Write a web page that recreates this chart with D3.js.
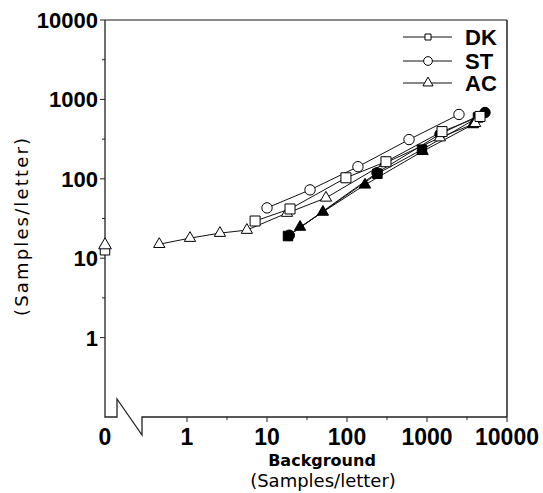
<!DOCTYPE html>
<html lang="en">
<head>
<meta charset="UTF-8">
<title>Samples/letter vs background</title>
<style>
    body { margin: 0; background: #fff; }
    .chart text { fill: #000; }
    .tick-label { font: bold 23px "Liberation Sans", Arial, sans-serif; }
    .legend text { font: bold 22px "Liberation Sans", Arial, sans-serif; }
    .axis-title { font-family: "DejaVu Sans", Verdana, sans-serif; }
</style>
</head>
<body>
<svg class="chart"></svg>
<script src="https://d3js.org/d3.v7.min.js"></script>
<script>

// open series (in the legend)
var dkX = [7.1, 19.4, 97, 307, 1540, 4600],
    dkY = [29.4, 41.7, 103, 164, 393, 610];
var stX = [10, 34.5, 137, 596, 2510],
    stY = [43, 72.5, 142, 312, 646];
var acX = [0.45, 1.09, 2.58, 5.6, 17.8, 54.6, 300, 1450, 4000],
    acY = [15, 17.9, 20.7, 22.6, 37, 57.5, 158, 330, 500];

// values plotted at the "0" background position
var zeroDK = 12.6,
    zeroAC = 14.6;

// filled series (not in the legend)
var fCircX = [19, 237, 1454, 5309],
    fCircY = [19.5, 119, 365, 684];
var fSqX = [18.3, 240, 866, 4340],
    fSqY = [19, 116, 233, 592];
var fTriX = [25.9, 50, 168, 880, 3758],
    fTriY = [24.7, 38.2, 84, 222, 483];

var xTicks = [1, 10, 100, 1000, 10000],
    yTicks = [1, 10, 100, 1000, 10000];
var legendNames = ["DK", "ST", "AC"];

var width = 543, height = 493;
var m = { left: 105, top: 20, right: 507, bottom: 417 };

var svg = d3.select(".chart")
    .attr("width", width)
    .attr("height", height);

var x = d3.scaleLog().domain([1, 10000]).range([187, m.right]);
var y = d3.scaleLog().domain([0.1, 10000]).range([m.bottom, m.top]);
// the "0" column left of the axis break
var xZero = d3.scalePoint().domain(["0"]).range([m.left, m.left]);

var axisStart = x(Math.pow(10, -0.5625));

// frame: top line and right side
svg.append("line")
    .attr("x1", m.left).attr("x2", m.right)
    .attr("y1", m.top).attr("y2", m.top)
    .attr("stroke", "#666").attr("stroke-width", 1.5);
svg.append("line")
    .attr("x1", m.right).attr("x2", m.right)
    .attr("y1", m.top).attr("y2", m.bottom)
    .attr("stroke", "#222").attr("stroke-width", 1.5);

// y axis line and the break on the x axis
svg.append("path")
    .attr("d", "M" + m.left + "," + m.top + "V" + m.bottom + "H" + (m.left + 12) +
        "V" + (m.bottom - 18) + "L" + axisStart + "," + (m.bottom + 18) +
        "V" + m.bottom + "H" + m.right)
    .attr("fill", "none")
    .attr("stroke", "#222")
    .attr("stroke-width", 1.3);

// y ticks
var yAxis = svg.append("g").attr("transform", "translate(" + m.left + ",0)");
yAxis.selectAll(".major").data(yTicks).enter().append("line")
    .attr("x1", -5).attr("x2", 0)
    .attr("y1", y).attr("y2", y)
    .attr("stroke", "#222");
yAxis.selectAll(".minor").data(yTicks.slice(0, 4)).enter().append("line")
    .attr("x1", -3).attr("x2", 0)
    .attr("y1", function(d) { return y(d * Math.sqrt(10)); })
    .attr("y2", function(d) { return y(d * Math.sqrt(10)); })
    .attr("stroke", "#222");
yAxis.selectAll("text").data(yTicks).enter().append("text")
    .attr("class", "tick-label")
    .attr("x", -7)
    .attr("y", y)
    .attr("dy", "0.36em")
    .style("font-size", "22px")
    .attr("text-anchor", "end")
    .text(function(d) { return d; });

// x ticks
var xAxis = svg.append("g").attr("transform", "translate(0," + m.bottom + ")");
xAxis.selectAll(".major").data(xTicks).enter().append("line")
    .attr("x1", x).attr("x2", x)
    .attr("y1", 0).attr("y2", 5)
    .attr("stroke", "#222");
xAxis.selectAll(".minor").data(xTicks.slice(0, 4)).enter().append("line")
    .attr("x1", function(d) { return x(d * Math.sqrt(10)); })
    .attr("x2", function(d) { return x(d * Math.sqrt(10)); })
    .attr("y1", 0).attr("y2", 3)
    .attr("stroke", "#222");
xAxis.selectAll("text.t").data(xTicks).enter().append("text")
    .attr("class", "tick-label")
    .attr("x", x)
    .attr("y", 28)
    .attr("text-anchor", "middle")
    .text(function(d) { return d; });
xAxis.append("text")
    .attr("class", "tick-label")
    .attr("x", xZero("0"))
    .attr("y", 28)
    .attr("text-anchor", "middle")
    .text("0");

// axis titles
svg.append("text")
    .attr("class", "axis-title")
    .attr("x", 322).attr("y", 466)
    .attr("text-anchor", "middle")
    .attr("font-weight", "bold")
    .attr("font-size", 16)
    .text("Background");
svg.append("text")
    .attr("class", "axis-title")
    .attr("x", 323).attr("y", 487)
    .attr("text-anchor", "middle")
    .attr("font-size", 18)
    .text("(Samples/letter)");
svg.append("text")
    .attr("class", "axis-title")
    .attr("transform", "translate(28,227) rotate(-90)")
    .attr("text-anchor", "middle")
    .attr("font-size", 18)
    .attr("textLength", 178)
    .attr("lengthAdjust", "spacing")
    .text("(Samples/letter)");

function pts(xs, ys) {
    return xs.map(function(v, i) { return [v, ys[i]]; });
}

var line = d3.line()
    .x(function(d) { return x(d[0]); })
    .y(function(d) { return y(d[1]); });

var series = [
    { data: pts(fTriX, fTriY), symbol: d3.symbolTriangle, size: 55, fill: "#000" },
    { data: pts(fSqX, fSqY), symbol: d3.symbolSquare, size: 90, fill: "#000" },
    { data: pts(fCircX, fCircY), symbol: d3.symbolCircle, size: 85, fill: "#000" },
    { data: pts(acX, acY), symbol: d3.symbolTriangle, size: 55, fill: "#fff" },
    { data: pts(dkX, dkY), symbol: d3.symbolSquare, size: 100, fill: "#fff" },
    { data: pts(stX, stY), symbol: d3.symbolCircle, size: 85, fill: "#fff" }
];

var plot = svg.append("g");

series.forEach(function(s) {
    plot.append("path")
        .attr("d", line(s.data))
        .attr("fill", "none")
        .attr("stroke", "#111")
        .attr("stroke-width", 1);
});

series.forEach(function(s) {
    plot.selectAll(null).data(s.data).enter().append("path")
        .attr("transform", function(d) { return "translate(" + x(d[0]) + "," + y(d[1]) + ")"; })
        .attr("d", d3.symbol().type(s.symbol).size(s.size))
        .attr("fill", s.fill)
        .attr("stroke", "#000")
        .attr("stroke-width", 1);
});

// points at background 0
plot.append("path")
    .attr("transform", "translate(" + xZero("0") + "," + y(zeroDK) + ")")
    .attr("d", d3.symbol().type(d3.symbolSquare).size(90))
    .attr("fill", "#fff").attr("stroke", "#000");
plot.append("path")
    .attr("transform", "translate(" + xZero("0") + "," + y(zeroAC) + ")")
    .attr("d", d3.symbol().type(d3.symbolTriangle).size(70))
    .attr("fill", "#fff").attr("stroke", "#000");

// legend
var legendSymbols = [d3.symbolSquare, d3.symbolCircle, d3.symbolTriangle];
var legendSizes = [36, 60, 45];
var legend = svg.append("g").attr("class", "legend");
var row = legend.selectAll("g").data(legendNames).enter().append("g")
    .attr("transform", function(d, i) { return "translate(0," + [37, 61, 83][i] + ")"; });
row.append("line")
    .attr("x1", 403).attr("x2", 452)
    .attr("stroke", "#111");
row.append("path")
    .attr("transform", "translate(428,0)")
    .attr("d", function(d, i) { return d3.symbol().type(legendSymbols[i]).size(legendSizes[i])(); })
    .attr("fill", "#fff")
    .attr("stroke", "#000");
row.append("text")
    .attr("x", 465)
    .attr("y", 8)
    .text(function(d) { return d; });

</script>
</body>
</html>
